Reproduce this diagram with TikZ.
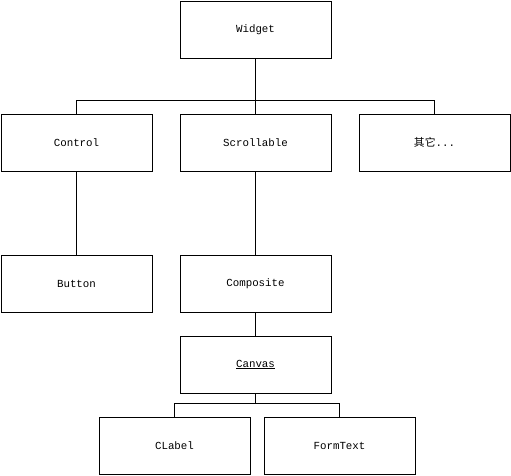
\documentclass[tikz,border=0pt]{standalone}
\usepackage{fontspec}
\setmonofont{Liberation Mono}
\newfontfamily\cjk{Noto Sans CJK SC}
\usetikzlibrary{positioning}

\begin{document}
\begin{tikzpicture}[
    box/.style={draw, line width=0.8pt, minimum width=151pt, minimum height=57pt,
                inner sep=0pt, outer sep=0pt, align=center},
    link/.style={line width=0.8pt},
    every node/.append style={font=\ttfamily\fontsize{10.8}{12}\selectfont}
  ]
  \useasboundingbox (0,0) rectangle (511pt,-475pt);
  \node[box] (widget) at (255.5pt,-29.5pt) {Widget};
  \node[box, below=56pt of widget] (scroll) {Scrollable};
  \node[box, left=28pt of scroll]  (control) {Control};
  \node[box, right=28pt of scroll] (other) {{\cjk 其它}...};

  \node[box, below=84pt of scroll]    (composite) {Composite};
  \node[box, left=28pt of composite]  (button) {Button};
  \node[box, below=24pt of composite] (canvas) {\underline{Canvas}};

  \node[box, below=24pt of canvas, xshift=-81pt] (clabel) {CLabel};
  \node[box, right=14pt of clabel] (formtext) {FormText};

  \draw[link] (widget) -- (scroll);
  \draw[link] (control.north) -- ++(0,14pt) -| (other.north);
  \draw[link] (control) -- (button);
  \draw[link] (scroll) -- (composite);
  \draw[link] (composite) -- (canvas);
  \draw[link] (clabel.north) -- ++(0,14pt) coordinate (cbus) -| (formtext.north);
  \draw[link] (canvas.south) -- (canvas.south |- cbus);
\end{tikzpicture}
\end{document}
